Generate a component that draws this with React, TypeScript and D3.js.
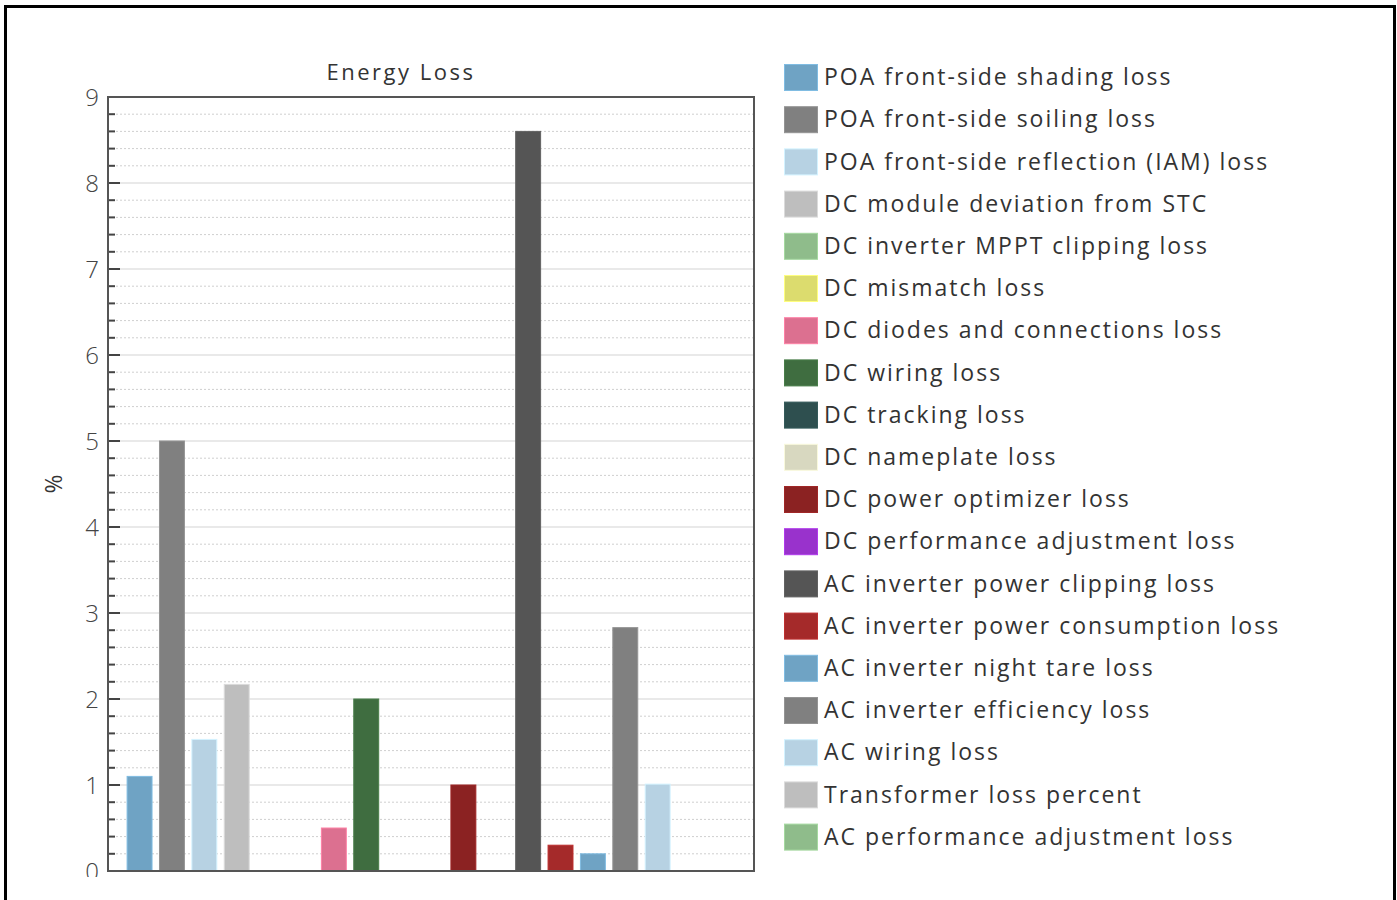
import React from 'react';
import * as d3 from 'd3';

// chart data
const categories = [
  'POA front-side shading loss',
  'POA front-side soiling loss',
  'POA front-side reflection (IAM) loss',
  'DC module deviation from STC',
  'DC inverter MPPT clipping loss',
  'DC mismatch loss',
  'DC diodes and connections loss',
  'DC wiring loss',
  'DC tracking loss',
  'DC nameplate loss',
  'DC power optimizer loss',
  'DC performance adjustment loss',
  'AC inverter power clipping loss',
  'AC inverter power consumption loss',
  'AC inverter night tare loss',
  'AC inverter efficiency loss',
  'AC wiring loss',
  'Transformer loss percent',
  'AC performance adjustment loss'
];
const lossValues = [1.1, 5.0, 1.53, 2.17, 0, 0, 0.5, 2.0, 0, 0, 1.0, 0, 8.6, 0.3, 0.2, 2.83, 1.01, 0, 0];
const colors = [
  '#6fa3c4', '#808080', '#b7d2e3', '#bebebe', '#8fbc8b', '#dcdc6e', '#dc7090',
  '#3f6d40', '#2e4f4f', '#d8d8c0', '#8b2222', '#9932cc', '#555555', '#a52a2a',
  '#6fa3c4', '#808080', '#b7d2e3', '#bebebe', '#8fbc8b'
];
const yTicks = [0, 1, 2, 3, 4, 5, 6, 7, 8, 9];
const chartTitle = 'Energy Loss';
const yLabel = '%';

const W = 1397;
const H = 900;
const margin = { top: 97, right: 643, bottom: 29, left: 108 };
const plotW = W - margin.left - margin.right;
const plotH = H - margin.top - margin.bottom;
const font = '"Open Sans", sans-serif';

const App = () => {
  const x = d3.scaleBand<string>().domain(categories).range([0, plotW]).paddingInner(0.23).paddingOuter(0.59);
  const y = d3.scaleLinear().domain([0, 9]).range([plotH, 0]);
  const minor = d3.range(0, 45).map(i => i / 5).filter(v => Math.abs(v - Math.round(v)) > 0.01);

  return (
    <div style={{ position: 'absolute', left: 0, top: 0 }}>
      <svg width={W} height={H} style={{ display: 'block', background: '#fff' }}>
        <defs>
          <clipPath id="chartClip">
            <rect x={0} y={0} width={W} height={877} />
          </clipPath>
        </defs>
        <rect x={5.5} y={6.5} width={1389} height={910} fill="#fff" stroke="#000" strokeWidth={3} />
        <text x={401} y={80} textAnchor="middle" fontFamily={font} fontSize={22} letterSpacing={2.5} fill="#333">{chartTitle}</text>
        <text transform={`translate(62,${margin.top + plotH / 2}) rotate(-90)`} textAnchor="middle" fontFamily={font} fontSize={23} fill="#333">{yLabel}</text>
        <g transform={`translate(${margin.left},${margin.top})`}>
          {minor.map(v => (
            <line key={'m' + v} x1={0} x2={plotW} y1={y(v)} y2={y(v)} stroke="#cfcfcf" strokeDasharray="2,2" />
          ))}
          {yTicks.map(v => (
            <line key={'g' + v} x1={0} x2={plotW} y1={y(v)} y2={y(v)} stroke="#e2e2e2" strokeWidth={1.5} />
          ))}
          {categories.map((c, i) =>
            lossValues[i] > 0 ? (
              <rect
                key={c}
                x={x(c)}
                y={y(lossValues[i])}
                width={x.bandwidth()}
                height={plotH - y(lossValues[i])}
                fill={colors[i]}
                stroke={d3.color(colors[i])!.brighter(0.4).toString()}
                strokeWidth={1}
              />
            ) : null
          )}
          {minor.map(v => (
            <line key={'mt' + v} x1={0} x2={7} y1={y(v)} y2={y(v)} stroke="#444" strokeWidth={2} />
          ))}
          {yTicks.map(v => (
            <line key={'t' + v} x1={0} x2={12} y1={y(v)} y2={y(v)} stroke="#444" strokeWidth={2} />
          ))}
          <rect x={0} y={0} width={plotW} height={plotH} fill="none" stroke="#555" strokeWidth={2} />
        </g>
        <g clipPath="url(#chartClip)">
          {yTicks.map(v => (
            <text key={'tl' + v} x={margin.left - 9} y={margin.top + y(v)} dy="0.36em" textAnchor="end" fontFamily={font} fontSize={24} fontWeight={300} fill="#444">{v}</text>
          ))}
        </g>
        <g transform="translate(784,64)">
          {categories.map((c, i) => (
            <g key={'l' + c} transform={`translate(0,${i * 42.2})`}>
              <rect x={0.5} y={0.5} width={33} height={26} fill={colors[i]} stroke={d3.color(colors[i])!.brighter(0.4).toString()} />
              <text x={40} y={13} dy="0.36em" fontFamily={font} fontSize={23} letterSpacing={2} fill="#333">{c}</text>
            </g>
          ))}
        </g>
      </svg>
    </div>
  );
};

export default App;
